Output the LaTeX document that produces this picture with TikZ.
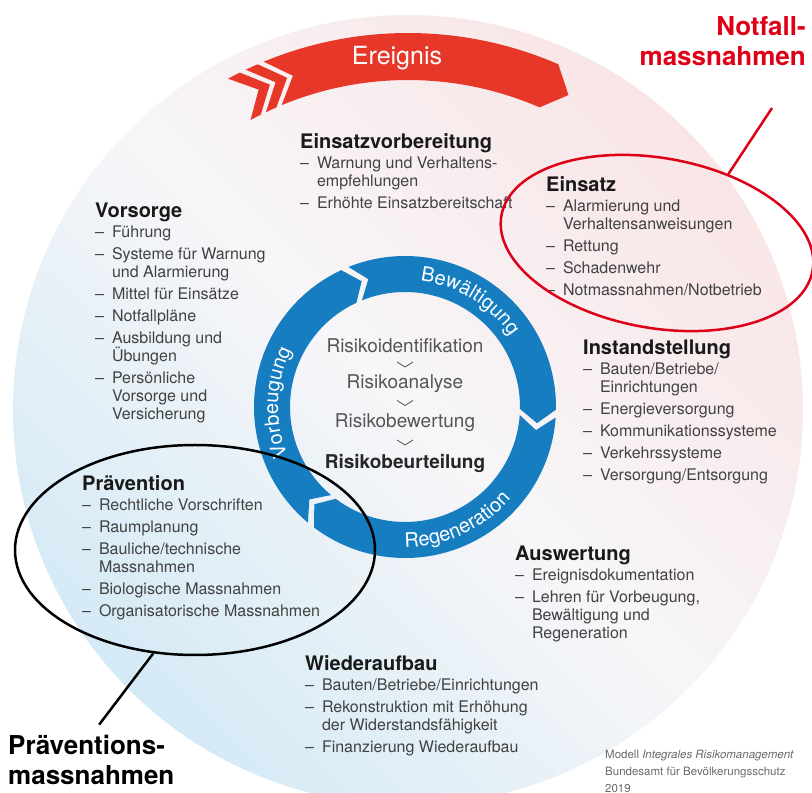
\documentclass[tikz,border=0pt]{standalone}
\usepackage{fontspec}
\setmainfont{TeX Gyre Heros}
\usetikzlibrary{shapes.geometric, positioning, calc, decorations.text}

\definecolor{ringblue}{RGB}{22,126,192}
\definecolor{bandred}{RGB}{230,55,40}
\definecolor{markred}{RGB}{222,0,22}
\definecolor{discpink}{RGB}{249,229,230}
\definecolor{discblue}{RGB}{212,234,246}
\definecolor{discmid}{RGB}{247,246,248}
\definecolor{itemgray}{RGB}{65,65,65}
\definecolor{riskgray}{RGB}{85,85,85}
\definecolor{credgray}{RGB}{105,105,105}

\newcommand{\itm}{\makebox[1.05em][l]{–}}
\newcommand{\cnt}{\hspace*{1.05em}}
\newcommand{\blocktitle}[1]{{\color{black!90}\bfseries\fontsize{20}{22}\selectfont #1}}
\newcommand{\ringfont}{\fontsize{20}{20}\selectfont}

\tikzset{
  arcarrow/.style n args={6}{insert path={
    ($(#1)+(#4:#3)$) arc[start angle=#4, end angle=#5, radius=#3]
    -- ($(#1)+({#5-#6}:{(#2+#3)/2})$)
    -- ($(#1)+(#5:#2)$) arc[start angle=#5, end angle=#4, radius=#2]
    -- ($(#1)+({#4-#6}:{(#2+#3)/2})$) -- cycle}}
}

\begin{document}
\begin{tikzpicture}[x=1pt, y=1pt,
    block/.style={anchor=north west, inner sep=0pt, align=left, text=itemgray,
      font=\fontsize{16}{18}\selectfont},
    risk/.style={inner sep=0pt, text=riskgray, font=\fontsize{19}{22}\selectfont},
    vmark/.style={riskgray, line width=0.8pt},
    ringtext/.style={decorate, decoration={text along path, text align=center,
      text color=white, text={|\ringfont|#1}}},
    annot/.style={inner sep=0pt, font=\bfseries\fontsize{26}{30}\selectfont},
    oval/.style={ellipse, draw, line width=2.5pt, inner sep=0pt}]

  \useasboundingbox (0,0) rectangle (812,793);
  \coordinate (dc) at (408,383);
  \coordinate (rc) at (405,386);

  % background disc
  \shade[top color=discpink, bottom color=discblue, middle color=discmid,
    shading angle=-45] (dc) circle[radius=395];

  % Ereignis band
  \fill[bandred, arcarrow={dc}{330}{377}{118.5}{116.5}{3.5}];
  \fill[bandred, arcarrow={dc}{330}{377}{115.5}{113.5}{3.5}];
  \fill[bandred, arcarrow={dc}{330}{377}{112.5}{66.5}{3.5}];
  \node[text=white, font=\fontsize{25}{25}\selectfont] (ereignis) at (397,735) {Ereignis};

  % ring
  \fill[ringblue, arcarrow={rc}{115}{151}{112}{-1}{6}];
  \fill[ringblue, arcarrow={rc}{115}{151}{-4}{-127}{6}];
  \fill[ringblue, arcarrow={rc}{115}{151}{-130}{-245}{6}];
  \path[ringtext=Bewältigung] ($(rc)+(98:127)$) arc[start angle=98, end angle=19, radius=127];
  \path[ringtext=Regeneration] ($(rc)+(-101:140)$) arc[start angle=-101, end angle=-30, radius=140];
  \path[ringtext=Vorbeugung] ($(rc)+(212:127)$) arc[start angle=212, end angle=144, radius=127];

  \node[risk] (ident) at (405,447) {Risikoidentifikation};
  \node[risk] (analyse) at (405,409) {Risikoanalyse};
  \node[risk] (bewertung) at (405,370) {Risikobewertung};
  \node[risk, font=\bfseries\fontsize{19}{22}\selectfont, text=black!85] (beurteilung) at (405,330) {Risikobeurteilung};
  \draw[vmark] ($(ident)!.5!(analyse)$) ++(-8,3) -- ++(8,-5) -- ++(8,5);
  \draw[vmark] ($(analyse)!.5!(bewertung)$) ++(-8,3) -- ++(8,-5) -- ++(8,5);
  \draw[vmark] ($(bewertung)!.5!(beurteilung)$) ++(-8,3) -- ++(8,-5) -- ++(8,5);

  % phases
  \node[block] (einsatzvorb) at (300,660) {\blocktitle{Einsatzvorbereitung}\\[2pt]
    \itm Warnung und Verhaltens-\\ \cnt empfehlungen\\[4pt]
    \itm Erhöhte Einsatzbereitschaft};
  \node[block] (einsatz) at (546,617) {\blocktitle{Einsatz}\\[2pt]
    \itm Alarmierung und\\ \cnt Verhaltensanweisungen\\[4pt]
    \itm Rettung\\[4pt]
    \itm Schadenwehr\\[4pt]
    \itm Notmassnahmen/Notbetrieb};
  \node[block] (vorsorge) at (95,590) {\blocktitle{Vorsorge}\\[2pt]
    \itm Führung\\[4pt]
    \itm Systeme für Warnung\\ \cnt und Alarmierung\\[4pt]
    \itm Mittel für Einsätze\\[4pt]
    \itm Notfallpläne\\[4pt]
    \itm Ausbildung und\\ \cnt Übungen\\[4pt]
    \itm Persönliche\\ \cnt Vorsorge und\\ \cnt Versicherung};
  \node[block] (instand) at (583,453) {\blocktitle{Instandstellung}\\[2pt]
    \itm Bauten/Betriebe/\\ \cnt Einrichtungen\\[4pt]
    \itm Energieversorgung\\[4pt]
    \itm Kommunikationssysteme\\[4pt]
    \itm Verkehrssysteme\\[4pt]
    \itm Versorgung/Entsorgung};
  \node[block] (praevention) at (82,318) {\blocktitle{Prävention}\\[2pt]
    \itm Rechtliche Vorschriften\\[4pt]
    \itm Raumplanung\\[4pt]
    \itm Bauliche/technische\\ \cnt Massnahmen\\[4pt]
    \itm Biologische Massnahmen\\[4pt]
    \itm Organisatorische Massnahmen};
  \node[block] (auswertung) at (515,247) {\blocktitle{Auswertung}\\[2pt]
    \itm Ereignisdokumentation\\[4pt]
    \itm Lehren für Vorbeugung,\\ \cnt Bewältigung und\\ \cnt Regeneration};
  \node[block] (wiederaufbau) at (305,138) {\blocktitle{Wiederaufbau}\\[2pt]
    \itm Bauten/Betriebe/Einrichtungen\\[4pt]
    \itm Rekonstruktion mit Erhöhung\\ \cnt der Widerstandsfähigkeit\\[4pt]
    \itm Finanzierung Wiederaufbau};

  \node[block, text=credgray, font=\fontsize{11.5}{17}\selectfont] (credits) at (605,43)
    {Modell \textit{Integrales Risikomanagement}\\Bundesamt für Bevölkerungsschutz\\2019};

  % markings
  \node[oval, draw=markred, minimum width=316pt, minimum height=170pt, rotate=-10] (einsatzoval) at (657,550) {};
  \node[annot, text=markred, align=right, anchor=north east] (notfalllabel) at (806,777) {Notfall-\\massnahmen};
  \coordinate (notfallend) at (772,685);
  \draw[markred, line width=2.5pt] (einsatzoval.54) -- (notfallend);

  \node[oval, minimum width=360pt, minimum height=210pt] (praeoval) at (195,243) {};
  \node[annot, align=left, anchor=north west] (praelabel) at (8,58) {Präventions-\\massnahmen};
  \draw[line width=2.5pt, shorten >=13pt] (praeoval.248) -- (praelabel.north);
\end{tikzpicture}
\end{document}
